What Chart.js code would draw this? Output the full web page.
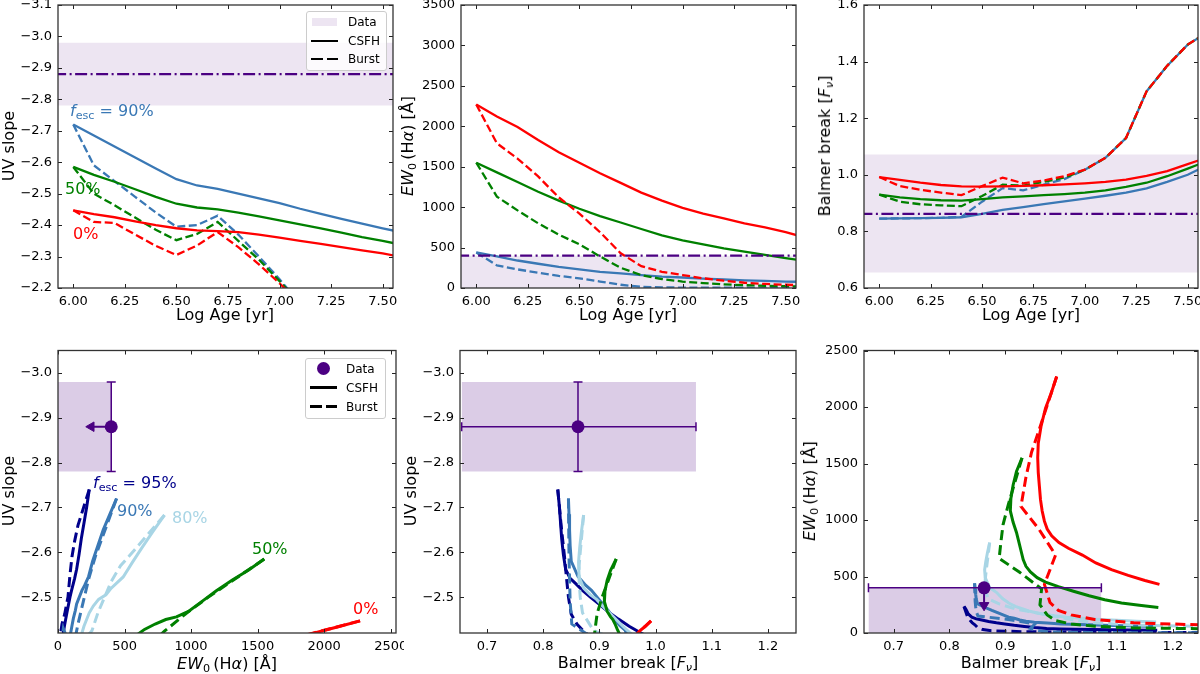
<!DOCTYPE html>
<html>
<head>
<meta charset="utf-8">
<title>UV slope, EW(Hα) and Balmer break vs age</title>
<script src="https://cdn.jsdelivr.net/npm/chart.js@4.4.1/dist/chart.umd.min.js"></script>
<style>
  body { margin:0; background:#fff; font-family:'DejaVu Sans', sans-serif; }
  #fig { position:relative; width:1200px; height:674px; overflow:hidden; }
  canvas { position:absolute; }
  .t { position:absolute; font-size:16px; line-height:16px; white-space:nowrap; color:#000; }
  .yt { transform:translate(-50%,-50%) rotate(-90deg); }
  .xt { transform:translateX(-50%); }
  sub { font-size:0.7em; line-height:0; vertical-align:-0.28em; }
  .leg { position:absolute; border:1px solid #ccc; border-radius:3px; background:rgba(255,255,255,0.8); box-sizing:border-box; }
  .lt { position:absolute; font-size:12px; line-height:12px; white-space:nowrap; }
  .ls { position:absolute; height:0; border-top:2.5px solid #000; }
</style>
</head>
<body>
<div id="fig">
  <canvas id="c1"></canvas><canvas id="c2"></canvas><canvas id="c3"></canvas>
  <canvas id="c4"></canvas><canvas id="c5"></canvas><canvas id="c6"></canvas>

  <!-- axis titles -->
  <div class="t yt" style="left:9px;top:146px">UV slope</div>
  <div class="t yt" style="left:408px;top:146px"><i>EW</i><sub>0</sub>&#8201;(H<i>α</i>) [Å]</div>
  <div class="t yt" style="left:825px;top:146px">Balmer break [<i>F</i><sub><i>ν</i></sub>]</div>
  <div class="t xt" style="left:225px;top:307px">Log Age [yr]</div>
  <div class="t xt" style="left:628px;top:307px">Log Age [yr]</div>
  <div class="t xt" style="left:1031px;top:307px">Log Age [yr]</div>
  <div class="t yt" style="left:9px;top:491px">UV slope</div>
  <div class="t yt" style="left:411px;top:491px">UV slope</div>
  <div class="t yt" style="left:810px;top:491px"><i>EW</i><sub>0</sub>&#8201;(H<i>α</i>) [Å]</div>
  <div class="t xt" style="left:227px;top:656px"><i>EW</i><sub>0</sub>&#8201;(H<i>α</i>) [Å]</div>
  <div class="t xt" style="left:628px;top:655px">Balmer break [<i>F</i><sub><i>ν</i></sub>]</div>
  <div class="t xt" style="left:1031px;top:655px">Balmer break [<i>F</i><sub><i>ν</i></sub>]</div>

  <!-- annotations -->
  <div class="t" style="left:70px;top:103px;color:#3a78b5"><i>f</i><sub>esc</sub> = 90%</div>
  <div class="t" style="left:65px;top:181px;color:#008000">50%</div>
  <div class="t" style="left:73px;top:226px;color:#ff0000">0%</div>
  <div class="t" style="left:93px;top:475px;color:#00008b"><i>f</i><sub>esc</sub> = 95%</div>
  <div class="t" style="left:117px;top:503px;color:#3a78b5">90%</div>
  <div class="t" style="left:172px;top:510px;color:#a8d5e5">80%</div>
  <div class="t" style="left:252px;top:541px;color:#008000">50%</div>
  <div class="t" style="left:353px;top:601px;color:#ff0000">0%</div>

  <!-- legends -->
  <div class="leg" style="left:306px;top:11px;width:81px;height:60px"></div>
  <div style="position:absolute;left:312px;top:18px;width:25px;height:8px;background:rgba(75,0,130,0.1)"></div>
  <div class="ls" style="left:311px;top:39.5px;width:27px"></div>
  <div class="ls" style="left:311px;top:58px;width:12px"></div>
  <div class="ls" style="left:327px;top:58px;width:11px"></div>
  <div class="lt" style="left:348px;top:16px">Data</div>
  <div class="lt" style="left:348px;top:35px">CSFH</div>
  <div class="lt" style="left:348px;top:53px">Burst</div>

  <div class="leg" style="left:305px;top:358px;width:81px;height:61px"></div>
  <div style="position:absolute;left:316.5px;top:362px;width:13px;height:13px;border-radius:50%;background:#4b0082"></div>
  <div class="ls" style="left:310px;top:386px;width:27px;border-top-width:3px"></div>
  <div class="ls" style="left:310px;top:405px;width:12px;border-top-width:3px"></div>
  <div class="ls" style="left:326px;top:405px;width:11px;border-top-width:3px"></div>
  <div class="lt" style="left:346px;top:363px">Data</div>
  <div class="lt" style="left:346px;top:382px">CSFH</div>
  <div class="lt" style="left:346px;top:401px">Burst</div>
</div>

<script>
// model grid (log age) and model tracks, per escape fraction
var logAge = [6.0,6.1,6.2,6.3,6.4,6.5,6.6,6.7,6.8,6.9,7.0,7.1,7.2,7.3,7.4,7.5,7.6,7.7,7.8,7.9,8.0];

var uvCsfh0  = [-2.447,-2.435,-2.425,-2.412,-2.400,-2.390,-2.383,-2.381,-2.378,-2.370,-2.360,-2.350,-2.340,-2.330,-2.320,-2.310,-2.298,-2.288,-2.278,-2.268,-2.258];
var uvCsfh50 = [-2.585,-2.560,-2.538,-2.514,-2.490,-2.468,-2.456,-2.450,-2.440,-2.428,-2.415,-2.402,-2.390,-2.376,-2.362,-2.350,-2.336,-2.324,-2.312,-2.300,-2.288];
var uvCsfh80 = [-2.683,-2.645,-2.610,-2.578,-2.545,-2.520,-2.505,-2.495,-2.480,-2.465,-2.450,-2.435,-2.420,-2.405,-2.390,-2.376,-2.362,-2.350,-2.338,-2.326,-2.314];
var uvCsfh90 = [-2.720,-2.685,-2.650,-2.615,-2.580,-2.546,-2.526,-2.515,-2.500,-2.485,-2.470,-2.452,-2.436,-2.420,-2.405,-2.390,-2.376,-2.362,-2.350,-2.338,-2.326];
var uvCsfh95 = [-2.740,-2.700,-2.665,-2.630,-2.595,-2.562,-2.542,-2.530,-2.515,-2.500,-2.485,-2.467,-2.451,-2.435,-2.420,-2.405,-2.391,-2.377,-2.364,-2.352,-2.340];

var uvBurst0  = [-2.447,-2.410,-2.407,-2.370,-2.334,-2.305,-2.335,-2.378,-2.330,-2.275,-2.215,-2.150,-2.080,-2.010,-1.950,-1.900,-1.860,-1.820,-1.790,-1.760,-1.730];
var uvBurst50 = [-2.585,-2.500,-2.463,-2.424,-2.385,-2.352,-2.372,-2.410,-2.350,-2.290,-2.222,-2.150,-2.080,-2.010,-1.950,-1.900,-1.860,-1.820,-1.790,-1.760,-1.730];
var uvBurst80 = [-2.683,-2.600,-2.570,-2.535,-2.500,-2.465,-2.425,-2.410,-2.380,-2.330,-2.250,-2.170,-2.100,-2.030,-1.970,-1.920,-1.870,-1.830,-1.800,-1.770,-1.740];
var uvBurst90 = [-2.720,-2.590,-2.540,-2.490,-2.440,-2.395,-2.400,-2.430,-2.370,-2.300,-2.228,-2.150,-2.080,-2.010,-1.950,-1.900,-1.860,-1.820,-1.790,-1.760,-1.730];
var uvBurst95 = [-2.740,-2.660,-2.625,-2.590,-2.550,-2.500,-2.462,-2.440,-2.420,-2.380,-2.300,-2.220,-2.150,-2.080,-2.010,-1.950,-1.900,-1.860,-1.820,-1.790,-1.760];

var ewCsfh0  = [2270,2120,1990,1830,1680,1550,1420,1300,1180,1080,990,920,860,800,750,690,620,560,510,465,430];
var ewCsfh50 = [1550,1430,1310,1190,1080,980,890,810,730,650,590,540,490,450,410,370,330,295,265,245,225];
var ewCsfh80 = [800,710,630,560,490,400,360,305,265,235,215,195,180,165,152,140,130,120,112,105,98];
var ewCsfh90 = [440,390,340,300,260,230,200,180,160,140,130,115,105,95,88,80,75,70,66,62,58];
var ewCsfh95 = [235,215,195,175,158,140,125,115,102,90,80,68,58,48,40,36,33,30,28,26,24];

var ewBurst0  = [2270,1790,1600,1380,1120,920,690,430,270,200,160,120,90,65,50,40,32,28,25,22,20];
var ewBurst50 = [1550,1130,960,800,660,540,390,250,160,110,80,60,45,35,28,22,18,15,13,11,10];
var ewBurst80 = [800,560,470,400,350,300,255,210,180,150,120,90,70,55,45,38,32,28,25,22,20];
var ewBurst90 = [440,280,230,190,150,120,80,40,15,8,5,4,3,3,2,2,2,2,2,2,2];
var ewBurst95 = [235,150,125,105,90,75,50,30,20,12,8,6,5,4,3,3,3,3,3,3,3];

var bbCsfh0  = [0.992,0.982,0.972,0.964,0.959,0.958,0.959,0.961,0.963,0.966,0.970,0.975,0.983,0.996,1.013,1.038,1.062,1.090,1.120,1.150,1.176];
var bbCsfh50 = [0.930,0.920,0.914,0.910,0.909,0.914,0.920,0.924,0.928,0.932,0.937,0.945,0.957,0.972,0.995,1.022,1.050,1.078,1.108,1.140,1.174];
var bbCsfh80 = [0.872,0.868,0.865,0.863,0.864,0.872,0.884,0.895,0.906,0.918,0.930,0.942,0.955,0.970,0.988,1.010,1.038,1.068,1.100,1.135,1.170];
var bbCsfh90 = [0.845,0.846,0.847,0.848,0.850,0.862,0.876,0.886,0.896,0.906,0.916,0.926,0.937,0.952,0.975,1.000,1.035,1.065,1.095,1.130,1.170];
var bbCsfh95 = [0.826,0.829,0.831,0.833,0.836,0.840,0.848,0.858,0.870,0.884,0.899,0.916,0.934,0.953,0.974,0.998,1.025,1.055,1.090,1.130,1.172];

var bbBurst0  = [0.992,0.960,0.947,0.937,0.928,0.960,0.990,0.970,0.980,0.995,1.018,1.060,1.130,1.295,1.385,1.460,1.505,1.540,1.570,1.600,1.630];
var bbBurst50 = [0.930,0.905,0.896,0.892,0.889,0.925,0.965,0.962,0.975,0.990,1.018,1.060,1.130,1.295,1.385,1.460,1.505,1.540,1.570,1.600,1.630];
var bbBurst80 = [0.872,0.866,0.864,0.864,0.866,0.870,0.890,0.920,0.955,0.985,1.018,1.060,1.130,1.295,1.385,1.460,1.505,1.540,1.570,1.600,1.630];
var bbBurst90 = [0.845,0.846,0.847,0.848,0.851,0.905,0.953,0.945,0.965,0.985,1.018,1.060,1.130,1.295,1.385,1.460,1.505,1.540,1.570,1.600,1.630];
var bbBurst95 = [0.826,0.832,0.835,0.838,0.841,0.845,0.850,0.860,0.875,0.930,1.018,1.060,1.130,1.295,1.385,1.460,1.505,1.540,1.570,1.600,1.630];

// observed galaxy
var dataUv = -2.88, dataUvErr = 0.10;
var dataEwLimit = 400, ewArrowLeft = 250, ewArrowDown = 245;
var dataBb = 0.862, dataBbLo = 0.655, dataBbHi = 1.072;
var ageSpan = [5.5, 8.0];

// tick labels
var ageTicks = [6.0, 6.25, 6.5, 6.75, 7.0, 7.25, 7.5];
var uvTicksTop = [-3.1, -3.0, -2.9, -2.8, -2.7, -2.6, -2.5, -2.4, -2.3, -2.2];
var ewTicksTop = [0, 500, 1000, 1500, 2000, 2500, 3000, 3500];
var bbTicksTop = [0.6, 0.8, 1.0, 1.2, 1.4, 1.6];
var uvTicksBot = [-3.0, -2.9, -2.8, -2.7, -2.6, -2.5];
var ewTicksBot = [0, 500, 1000, 1500, 2000, 2500];
var bbTicksBot = [0.7, 0.8, 0.9, 1.0, 1.1, 1.2];

var RED = '#ff0000', GREEN = '#008000', BLUE = '#3a78b5', NAVY = '#00008b', LIGHT = '#a8d5e5', INDIGO = '#4b0082';

Chart.defaults.font.family = 'DejaVu Sans';
Chart.defaults.color = '#000';

function pairs(xs, ys) {
    return xs.map(function(v, i) { return {x: v, y: ys[i]}; });
}

function curve(xs, ys, color, dashed, width) {
    var dash = width > 2.5 ? [10, 5] : [8, 3.5];
    return {
        data: pairs(xs, ys), showLine: true, borderColor: color, borderWidth: width,
        borderDash: dashed ? dash : [], pointRadius: 0, fill: false, tension: 0
    };
}

function band(xs, y0, y1, alpha) {
    return {
        data: pairs(xs, [y0, y0]), showLine: true, borderColor: 'rgba(0,0,0,0)', borderWidth: 0,
        pointRadius: 0, fill: {value: y1}, backgroundColor: 'rgba(75,0,130,' + alpha + ')'
    };
}

function dashDot(xs, y) {
    return {
        data: pairs(xs, [y, y]), showLine: true, borderColor: INDIGO, borderWidth: 2.3,
        borderDash: [12, 3.5, 2, 3.5], pointRadius: 0, fill: false
    };
}

function errBar(xs, ys, capRot) {
    return {
        data: pairs(xs, ys), showLine: true, borderColor: INDIGO, borderWidth: 1.5,
        pointStyle: 'line', pointRadius: 4.5, pointBorderWidth: 1.5, pointBorderColor: INDIGO,
        pointRotation: capRot, fill: false
    };
}

function arrow(xs, ys, rot) {
    return {
        data: pairs(xs, ys), showLine: true, borderColor: INDIGO, borderWidth: 2,
        pointStyle: 'triangle', pointRadius: [0, 5.5], pointRotation: rot,
        pointBackgroundColor: INDIGO, pointBorderColor: INDIGO, pointBorderWidth: 1, fill: false
    };
}

function marker(x, y) {
    return {
        data: [{x: x, y: y}], pointStyle: 'circle', pointRadius: 6.5,
        pointBackgroundColor: INDIGO, pointBorderColor: INDIGO, pointBorderWidth: 0
    };
}

function fmt(v, d) {
    if (Math.abs(v) < 1e-9) return (0).toFixed(d);
    return (v < 0 ? '\u2212' : '') + Math.abs(v).toFixed(d);
}

function axis(min, max, ticks, digits, reverse) {
    return {
        type: 'linear', min: min, max: max, reverse: !!reverse,
        grid: {display: false, drawTicks: false}, border: {display: false},
        ticks: {
            autoSkip: false, maxRotation: 0, minRotation: 0, padding: 6,
            color: '#000', font: {size: 13},
            callback: function(v) { return fmt(v, digits); }
        },
        afterBuildTicks: function(s) { s.ticks = ticks.map(function(v) { return {value: v}; }); },
        afterFit: function(s) {
            if (s.isHorizontal()) { s.height = 30; s.paddingLeft = 0; s.paddingRight = 0; }
            else { s.width = 60; s.paddingTop = 0; s.paddingBottom = 0; }
        }
    };
}

// spines and inward ticks on all four sides
var frame = {
    id: 'frame',
    afterDatasetsDraw: function(chart) {
        var ctx = chart.ctx, a = chart.chartArea, xs = chart.scales.x, ys = chart.scales.y;
        ctx.save();
        ctx.strokeStyle = '#222';
        ctx.lineWidth = 1;
        ctx.beginPath();
        xs.ticks.forEach(function(t) {
            var p = Math.round(xs.getPixelForValue(t.value)) + 0.5;
            ctx.moveTo(p, a.bottom); ctx.lineTo(p, a.bottom - 4);
            ctx.moveTo(p, a.top); ctx.lineTo(p, a.top + 4);
        });
        ys.ticks.forEach(function(t) {
            var p = Math.round(ys.getPixelForValue(t.value)) + 0.5;
            ctx.moveTo(a.left, p); ctx.lineTo(a.left + 4, p);
            ctx.moveTo(a.right, p); ctx.lineTo(a.right - 4, p);
        });
        ctx.stroke();
        ctx.strokeStyle = '#333';
        ctx.lineWidth = 1.3;
        ctx.strokeRect(a.left, a.top, a.right - a.left, a.bottom - a.top);
        ctx.restore();
    }
};

function panel(id, box, xAxis, yAxis, datasets) {
    var c = document.getElementById(id);
    var w = box[2] - box[0] + 68, h = box[3] - box[1] + 36;
    c.width = w; c.height = h;
    c.style.width = w + 'px'; c.style.height = h + 'px';
    c.style.left = (box[0] - 60) + 'px'; c.style.top = (box[1] - 6) + 'px';
    new Chart(c, {
        type: 'scatter',
        data: {datasets: datasets},
        options: {
            responsive: false, animation: false, devicePixelRatio: 1, events: [],
            layout: {padding: {left: 0, top: 6, right: 8, bottom: 0}},
            plugins: {legend: {display: false}, tooltip: {enabled: false}},
            scales: {x: xAxis, y: yAxis}
        },
        plugins: [frame]
    });
}

var TOP_W = 2.3;

// top row: against log age
panel('c1', [58, 5, 393, 288], axis(5.926, 7.55, ageTicks, 2), axis(-3.1, -2.2, uvTicksTop, 1, true), [
    dashDot(ageSpan, dataUv),
    curve(logAge, uvCsfh0, RED, false, TOP_W), curve(logAge, uvBurst0, RED, true, TOP_W),
    curve(logAge, uvCsfh50, GREEN, false, TOP_W), curve(logAge, uvBurst50, GREEN, true, TOP_W),
    curve(logAge, uvCsfh90, BLUE, false, TOP_W), curve(logAge, uvBurst90, BLUE, true, TOP_W),
    band(ageSpan, dataUv - dataUvErr, dataUv + dataUvErr, 0.1)
]);

panel('c2', [461, 5, 796, 288], axis(5.926, 7.55, ageTicks, 2), axis(0, 3500, ewTicksTop, 0), [
    dashDot(ageSpan, dataEwLimit),
    curve(logAge, ewCsfh0, RED, false, TOP_W), curve(logAge, ewBurst0, RED, true, TOP_W),
    curve(logAge, ewCsfh50, GREEN, false, TOP_W), curve(logAge, ewBurst50, GREEN, true, TOP_W),
    curve(logAge, ewCsfh90, BLUE, false, TOP_W), curve(logAge, ewBurst90, BLUE, true, TOP_W),
    band(ageSpan, 0, dataEwLimit, 0.1)
]);

panel('c3', [864, 5, 1198, 288], axis(5.926, 7.55, ageTicks, 2), axis(0.6, 1.6, bbTicksTop, 1), [
    dashDot(ageSpan, dataBb),
    curve(logAge, bbBurst0, RED, true, TOP_W), curve(logAge, bbCsfh0, RED, false, TOP_W),
    curve(logAge, bbBurst50, GREEN, true, TOP_W), curve(logAge, bbCsfh50, GREEN, false, TOP_W),
    curve(logAge, bbBurst90, BLUE, true, TOP_W), curve(logAge, bbCsfh90, BLUE, false, TOP_W),
    band(ageSpan, dataBbLo, dataBbHi, 0.1)
]);

// bottom row: model tracks in observable planes
function tracks(xC, yC, xB, yB) {
    var out = [];
    var cols = [RED, GREEN, LIGHT, BLUE, NAVY];
    for (var i = 0; i < cols.length; i++) {
        out.push(curve(xC[i], yC[i], cols[i], false, 3));
        out.push(curve(xB[i], yB[i], cols[i], true, 3));
    }
    return out;
}
var uvC = [uvCsfh0, uvCsfh50, uvCsfh80, uvCsfh90, uvCsfh95];
var uvB = [uvBurst0, uvBurst50, uvBurst80, uvBurst90, uvBurst95];
var ewC = [ewCsfh0, ewCsfh50, ewCsfh80, ewCsfh90, ewCsfh95];
var ewB = [ewBurst0, ewBurst50, ewBurst80, ewBurst90, ewBurst95];
var bbC = [bbCsfh0, bbCsfh50, bbCsfh80, bbCsfh90, bbCsfh95];
var bbB = [bbBurst0, bbBurst50, bbBurst80, bbBurst90, bbBurst95];

panel('c4', [58, 350, 396, 633], axis(0, 2540, ewTicksBot, 0), axis(-3.05, -2.42, uvTicksBot, 1, true), [
    marker(dataEwLimit, dataUv),
    arrow([dataEwLimit, ewArrowLeft], [dataUv, dataUv], 270),
    errBar([dataEwLimit, dataEwLimit], [dataUv - dataUvErr, dataUv + dataUvErr], 0)
].concat(tracks(ewC, uvC, ewB, uvB), [
    band([0, dataEwLimit], dataUv - dataUvErr, dataUv + dataUvErr, 0.2)
]));

panel('c5', [460, 350, 796, 633], axis(0.652, 1.25, bbTicksBot, 1), axis(-3.05, -2.42, uvTicksBot, 1, true), [
    marker(dataBb, dataUv),
    errBar([dataBb, dataBb], [dataUv - dataUvErr, dataUv + dataUvErr], 0),
    errBar([dataBbLo, dataBbHi], [dataUv, dataUv], 90)
].concat(tracks(bbC, uvC, bbB, uvB), [
    band([dataBbLo, dataBbHi], dataUv - dataUvErr, dataUv + dataUvErr, 0.2)
]));

panel('c6', [864, 350, 1198, 633], axis(0.647, 1.245, bbTicksBot, 1), axis(0, 2500, ewTicksBot, 0), [
    marker(dataBb, dataEwLimit),
    arrow([dataBb, dataBb], [dataEwLimit, ewArrowDown], 180),
    errBar([dataBbLo, dataBbHi], [dataEwLimit, dataEwLimit], 90)
].concat(tracks(bbC, ewC, bbB, ewB), [
    band([dataBbLo, dataBbHi], 0, dataEwLimit, 0.2)
]));
</script>
</body>
</html>
